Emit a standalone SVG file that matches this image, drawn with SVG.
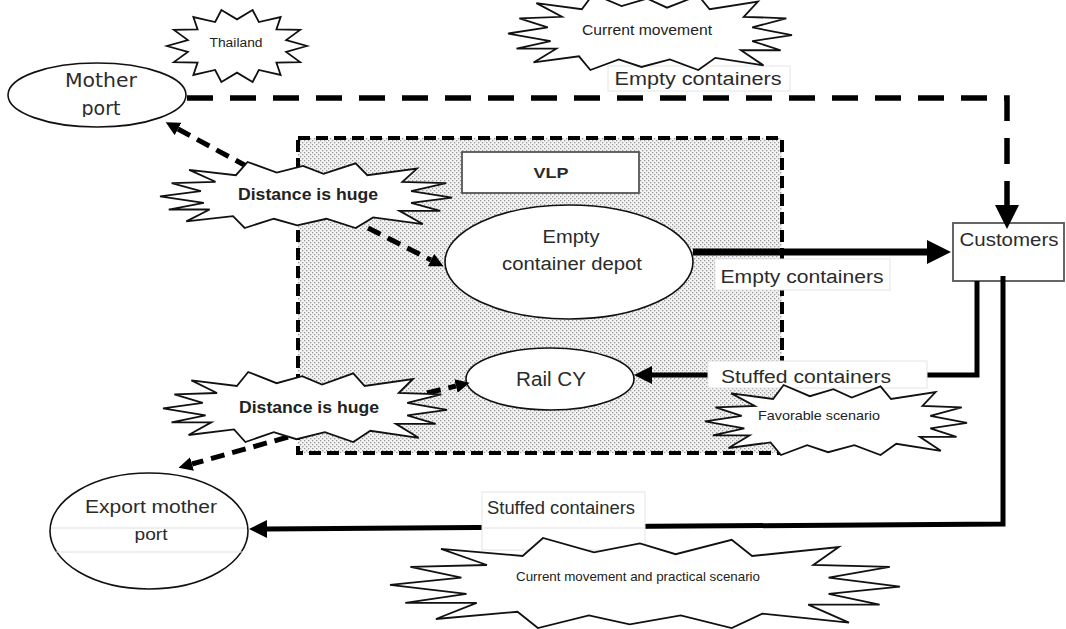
<svg xmlns="http://www.w3.org/2000/svg" xmlns:xlink="http://www.w3.org/1999/xlink" width="1066" height="629" viewBox="0 0 1066 629">
  <style>
    .node { fill: #fff; stroke: #111; stroke-width: 1.6; }
    .box { fill: #fff; stroke: #555; stroke-width: 1.8; }
    .txt { font-family: "Liberation Sans", Arial, sans-serif; fill: #2b2b2b; text-anchor: middle; }
    .hum { font-family: "DejaVu Sans", Verdana, sans-serif; fill: #2b2b2b; text-anchor: middle; }
    .burst { fill: #fff; stroke: #111; stroke-width: 1.8; stroke-linejoin: miter; vector-effect: non-scaling-stroke; }
    .btxt { font-family: "Liberation Sans", Arial, sans-serif; fill: #222; text-anchor: middle; }
    .label-bg { fill: #fff; stroke: #e4e4e4; stroke-width: 1; }
    .dash-lg { fill: none; stroke: #000; stroke-width: 5.5; stroke-dasharray: 26 17; }
    .dash-sm { fill: none; stroke: #000; stroke-width: 5; stroke-dasharray: 14 8; }
    .solid-lg { fill: none; stroke: #000; stroke-width: 7; }
    .solid { fill: none; stroke: #000; stroke-width: 5; }
  </style>
  <defs>
    <!-- stipple fill for the VLP area -->
    <pattern id="stipple" width="4" height="4" patternUnits="userSpaceOnUse">
      <rect width="4" height="4" fill="#f3f3f3"/>
      <rect x="0" y="0" width="1.3" height="1.3" fill="#9a9a9a"/>
      <rect x="2" y="2" width="1.3" height="1.3" fill="#9a9a9a"/>
    </pattern>
    <!-- wide explosion shape, spans -100..100 by -50..50 -->
    <polygon id="burstWide" class="burst" points="-100,2 -72,-6 -92,-18 -62,-20 -80,-38 -48,-30 -40,-50 -20,-34 -2,-44 12,-32 34,-48 42,-30 76,-40 66,-20 96,-18 72,-6 100,4 72,12 92,24 64,24 80,44 46,34 34,50 14,36 -6,46 -22,36 -42,50 -50,32 -82,40 -66,22 -94,22 -70,12"/>
    <!-- sun-like explosion shape -->
    <polygon id="burstSun" class="burst" points="100,0 70.2,8 90.1,21.7 56.3,22.4 62.3,39.1 31.2,32.4 22.3,48.7 0,36 -22.3,48.7 -31.2,32.4 -62.3,39.1 -56.3,22.4 -90.1,21.7 -70.2,8 -100,0 -70.2,-8 -90.1,-21.7 -56.3,-22.4 -62.3,-39.1 -31.2,-32.4 -22.3,-48.7 0,-36 22.3,-48.7 31.2,-32.4 62.3,-39.1 56.3,-22.4 90.1,-21.7 70.2,-8"/>
    <marker id="headBig" markerUnits="userSpaceOnUse" markerWidth="26" markerHeight="24" refX="0" refY="12" orient="auto">
      <path d="M0,0 L24,12 L0,24 z" fill="#000"/>
    </marker>
    <marker id="headMed" markerUnits="userSpaceOnUse" markerWidth="20" markerHeight="18" refX="0" refY="9" orient="auto">
      <path d="M0,0 L18,9 L0,18 z" fill="#000"/>
    </marker>
    <marker id="headDash" markerUnits="userSpaceOnUse" markerWidth="16" markerHeight="14" refX="0" refY="7" orient="auto">
      <path d="M0,0 L14,7 L0,14 z" fill="#000"/>
    </marker>
    <clipPath id="portClip">
      <rect x="60" y="95" width="80" height="22"/>
    </clipPath>
  </defs>

  <rect width="1066" height="629" fill="#fff"/>

  <!-- VLP area -->
  <g id="vlp-area">
    <rect x="298" y="138" width="484" height="315" fill="url(#stipple)" stroke="#000" stroke-width="4" stroke-dasharray="12 6"/>
  </g>

  <g id="vlp-label">
    <rect class="box" x="462" y="152" width="177" height="41"/>
    <text class="txt" x="551" y="178" font-size="15" font-weight="bold" fill="#111" textLength="35" lengthAdjust="spacingAndGlyphs">VLP</text>
  </g>

  <g id="mother-port">
    <ellipse class="node" cx="97" cy="95" rx="89" ry="32"/>
    <text class="hum" x="101" y="87" font-size="20" textLength="72" lengthAdjust="spacingAndGlyphs">Mother</text>
    <g clip-path="url(#portClip)">
      <text class="hum" x="101" y="115" font-size="19">port</text>
    </g>
  </g>

  <g id="customers">
    <rect class="box" x="953" y="223" width="111" height="58"/>
    <text class="txt" x="1009" y="246" font-size="18" textLength="99" lengthAdjust="spacingAndGlyphs">Customers</text>
  </g>

  <g id="empty-container-depot">
    <ellipse class="node" cx="569" cy="262" rx="124" ry="57"/>
    <text class="txt" x="571" y="243" font-size="18" textLength="57" lengthAdjust="spacingAndGlyphs">Empty</text>
    <text class="txt" x="572" y="270" font-size="18" textLength="140" lengthAdjust="spacingAndGlyphs">container depot</text>
  </g>

  <g id="rail-cy">
    <ellipse class="node" cx="550" cy="379" rx="84" ry="31"/>
    <text class="txt" x="551" y="386" font-size="20" textLength="70" lengthAdjust="spacingAndGlyphs">Rail CY</text>
  </g>

  <g id="export-mother-port">
    <ellipse class="node" cx="149" cy="531" rx="99" ry="58"/>
    <line x1="51" y1="528" x2="247" y2="528" stroke="#ddd" stroke-width="1"/>
    <line x1="56" y1="552" x2="243" y2="552" stroke="#ddd" stroke-width="1"/>
    <text class="txt" x="151" y="513" font-size="18" textLength="132" lengthAdjust="spacingAndGlyphs">Export mother</text>
    <text class="txt" x="151" y="540" font-size="17" textLength="33" lengthAdjust="spacingAndGlyphs">port</text>
  </g>

  <!-- connectors -->
  <g id="connectors">
    <path class="dash-lg" d="M187,98 H1007 V205" marker-end="url(#headBig)"/>
    <path class="dash-sm" d="M248,167 L178,129" marker-end="url(#headDash)"/>
    <path class="dash-sm" d="M368,228 L431,260" marker-end="url(#headDash)"/>
    <path class="dash-sm" d="M427,393 L456,386" marker-end="url(#headDash)"/>
    <path class="dash-sm" d="M288,437 L192,464" marker-end="url(#headDash)"/>
    <path class="solid-lg" d="M693,252 H927" marker-end="url(#headBig)"/>
    <path class="solid" d="M977,281 V375 H652" marker-end="url(#headMed)"/>
    <path class="solid" d="M1003,276 V524 L267,529" marker-end="url(#headMed)"/>
  </g>

  <!-- connector labels -->
  <g id="label-empty-top">
    <rect class="label-bg" x="608" y="66" width="182" height="25"/>
    <text class="txt" x="698" y="85" font-size="18" textLength="167" lengthAdjust="spacingAndGlyphs">Empty containers</text>
  </g>
  <g id="label-empty-mid">
    <rect class="label-bg" x="715" y="259" width="175" height="31"/>
    <text class="txt" x="802" y="283" font-size="18" textLength="163" lengthAdjust="spacingAndGlyphs">Empty containers</text>
  </g>
  <g id="label-stuffed-rail">
    <rect class="label-bg" x="708" y="361" width="219" height="27"/>
    <text class="txt" x="806" y="383" font-size="18" textLength="170" lengthAdjust="spacingAndGlyphs">Stuffed containers</text>
  </g>
  <g id="label-stuffed-export">
    <rect class="label-bg" x="482" y="492" width="163" height="58"/>
    <line x1="482" y1="528" x2="645" y2="528" stroke="#e4e4e4" stroke-width="1"/>
    <text class="txt" x="561" y="514" font-size="18" textLength="148" lengthAdjust="spacingAndGlyphs">Stuffed containers</text>
  </g>

  <!-- callouts -->
  <g id="callout-thailand">
    <use xlink:href="#burstSun" transform="translate(237,46) scale(0.70,0.74)"/>
    <text class="btxt" x="236" y="47" font-size="12" textLength="53" lengthAdjust="spacingAndGlyphs">Thailand</text>
  </g>
  <g id="callout-current">
    <use xlink:href="#burstWide" transform="translate(650,32) scale(1.42,0.76)"/>
    <text class="btxt" x="647" y="35" font-size="14" textLength="130" lengthAdjust="spacingAndGlyphs">Current movement</text>
  </g>
  <g id="callout-distance-1">
    <use xlink:href="#burstWide" transform="translate(306,195) scale(1.46,0.66)"/>
    <text class="btxt" x="308" y="200" font-size="16" font-weight="bold" textLength="140" lengthAdjust="spacingAndGlyphs">Distance is huge</text>
  </g>
  <g id="callout-distance-2">
    <use xlink:href="#burstWide" transform="translate(305,407) scale(1.42,0.70)"/>
    <text class="btxt" x="309" y="413" font-size="16" font-weight="bold" textLength="140" lengthAdjust="spacingAndGlyphs">Distance is huge</text>
  </g>
  <g id="callout-favorable">
    <use xlink:href="#burstWide" transform="translate(836,420) scale(1.31,0.70)"/>
    <text class="btxt" x="819" y="420" font-size="13" textLength="122" lengthAdjust="spacingAndGlyphs">Favorable scenario</text>
  </g>
  <g id="callout-practical">
    <use xlink:href="#burstWide" transform="translate(645,583) scale(2.55,0.90)"/>
    <text class="btxt" x="638" y="581" font-size="13" textLength="244" lengthAdjust="spacingAndGlyphs">Current movement and practical scenario</text>
  </g>
</svg>
